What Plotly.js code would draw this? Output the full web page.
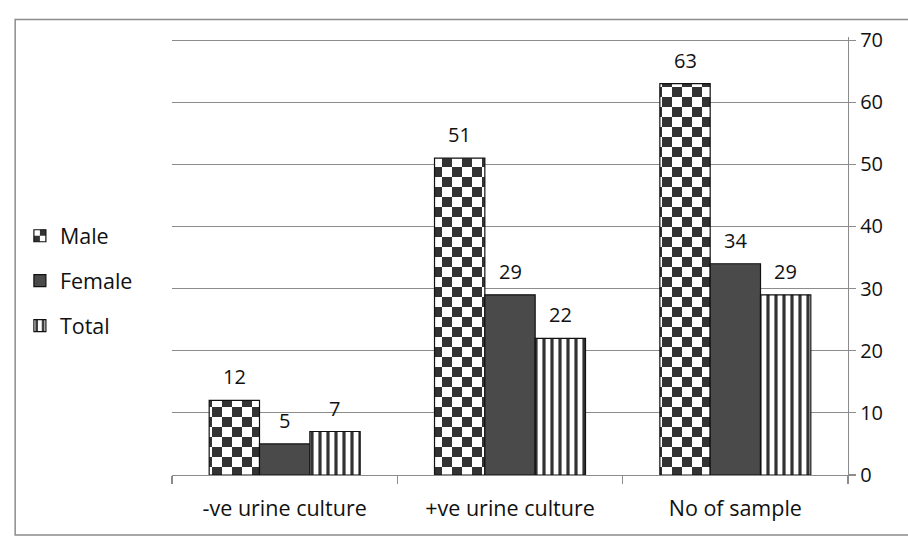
<!DOCTYPE html>
<html><head><meta charset="utf-8">
<script src="https://cdn.plot.ly/plotly-3.0.1.min.js"></script>
<style>html,body{margin:0;padding:0;background:#fff;} #chart{width:908px;height:536px;}</style>
</head><body><div id="chart"></div>
<script>
const categories = ["-ve urine culture", "+ve urine culture", "No of sample"];
const seriesNames = ["Male", "Female", "Total"];
const male = [12, 51, 63];
const female = [5, 29, 34];
const total = [7, 22, 29];
const yTickVals = [0, 10, 20, 30, 40, 50, 60, 70];

const FONT = "'Open Sans', Lato, sans-serif";
const FS = 20;
const FSL = 21.5;
const DARK = "#333333";
const bargap = 0.33;
const seriesValues = [male, female, total];

const traces = [
  {type: "bar", name: seriesNames[0], x: categories, y: male, legendgroup: "a",
   marker: {color: "#ffffff", line: {color: "#111", width: 1.2},
            pattern: {shape: "+", fgcolor: DARK, bgcolor: "#ffffff", size: 20, solidity: 0.5}}},
  {type: "bar", name: seriesNames[1], x: categories, y: female, legendgroup: "b",
   marker: {color: "#4a4a4a", line: {color: "#111", width: 1.2}}},
  {type: "bar", name: seriesNames[2], x: categories, y: total, legendgroup: "c",
   marker: {color: "#ffffff", line: {color: "#111", width: 1.2},
            pattern: {shape: "|", fgcolor: DARK, bgcolor: "#ffffff", size: 8, solidity: 0.4}}}
];

const w = (1 - bargap) / 3;
const annotations = [];
seriesValues.forEach((vals, i) => {
  vals.forEach((v, j) => {
    annotations.push({x: j + (i - 1) * w, y: v, xref: "x", yref: "y", text: String(v),
      showarrow: false, yanchor: "bottom", yshift: 8, font: {family: FONT, size: FS, color: "#111"}});
  });
});

const layout = {
  width: 908, height: 536,
  margin: {l: 172, r: 60, t: 37, b: 61},
  paper_bgcolor: "#ffffff", plot_bgcolor: "#ffffff",
  font: {family: FONT, size: FS, color: "#111"},
  barmode: "group", bargap: bargap, bargroupgap: 0,
  showlegend: true,
  legend: {x: -0.225, xanchor: "left", y: 0.593, yanchor: "top", traceorder: "grouped",
           tracegroupgap: 14, itemwidth: 30, font: {family: FONT, size: FSL, color: "#111"}, bgcolor: "rgba(0,0,0,0)"},
  xaxis: {type: "category", showline: true, linecolor: "#8c8c8c", linewidth: 1.2,
          ticks: "outside", tickson: "boundaries", ticklen: 8, tickcolor: "#8c8c8c", tickwidth: 1.2,
          showgrid: false, ticklabelstandoff: 14, tickfont: {family: FONT, size: FSL, color: "#111"}},
  yaxis: {side: "right", range: [0, 70.5], tickvals: yTickVals, showline: true, linecolor: "#8c8c8c", linewidth: 1.2,
          ticks: "outside", ticklen: 7, tickcolor: "#8c8c8c", tickwidth: 1.2,
          showgrid: true, gridcolor: "#8c8c8c", gridwidth: 1.2, zeroline: false,
          tickfont: {family: FONT, size: FS, color: "#111"}},
  annotations: annotations,
  shapes: [{type: "rect", xref: "paper", yref: "paper", x0: -0.232, x1: 1.3, y0: -0.137, y1: 1.04,
            line: {color: "#8c8c8c", width: 1.5}, fillcolor: "rgba(0,0,0,0)", layer: "below"}]
};

function checkerize(gd) {
  const ids = new Set();
  const collect = el => {
    const f = el.style.fill || el.getAttribute("fill") || "";
    const m = f.match(/#([^"')]+)/);
    if (m) ids.add(m[1]);
  };
  const barTraces = gd.querySelectorAll(".barlayer .trace");
  if (barTraces[0]) barTraces[0].querySelectorAll("path").forEach(collect);
  const legTraces = gd.querySelectorAll(".legend .traces");
  if (legTraces[0]) legTraces[0].querySelectorAll("path").forEach(collect);
  const NS = "http://www.w3.org/2000/svg";
  ids.forEach(id => {
    const p = document.getElementById(id);
    if (!p || p.tagName.toLowerCase() !== "pattern") return;
    const c = 10;
    p.setAttribute("width", 2 * c); p.setAttribute("height", 2 * c);
    p.setAttribute("patternUnits", "userSpaceOnUse");
    p.removeAttribute("patternTransform");
    while (p.firstChild) p.removeChild(p.firstChild);
    const mk = (x, y, col) => {
      const r = document.createElementNS(NS, "rect");
      r.setAttribute("x", x); r.setAttribute("y", y);
      r.setAttribute("width", c); r.setAttribute("height", c);
      r.setAttribute("fill", col);
      p.appendChild(r);
    };
    mk(0, 0, "#ffffff"); mk(c, c, "#ffffff");
    mk(c, 0, DARK); mk(0, c, DARK);
  });
}

Plotly.newPlot("chart", traces, layout, {staticPlot: true}).then(gd => checkerize(gd));
</script></body></html>
